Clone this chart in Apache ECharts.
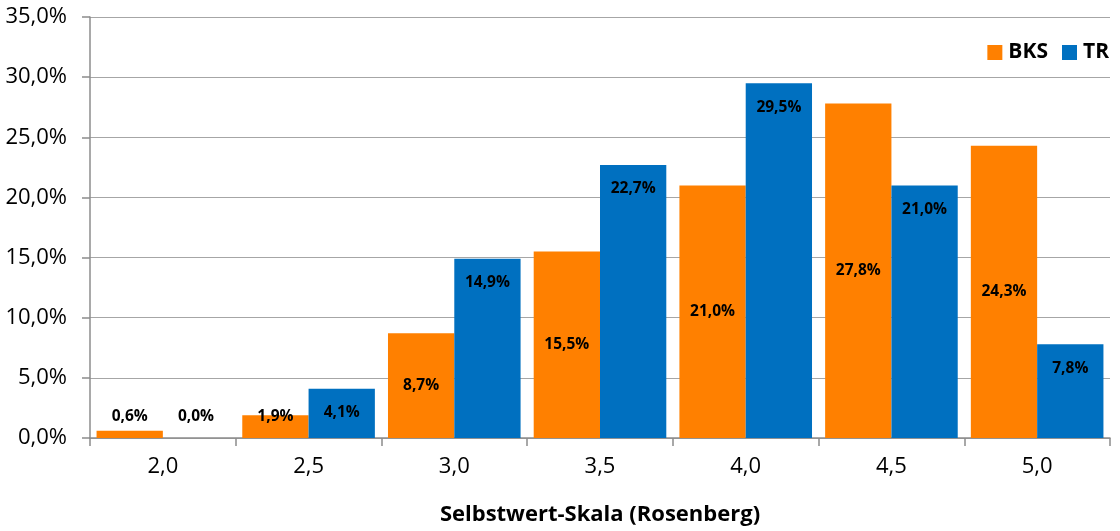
<!DOCTYPE html>
<html><head><meta charset="utf-8">
<script src="https://cdn.jsdelivr.net/npm/echarts@6/dist/echarts.min.js"></script>
<style>html,body{margin:0;padding:0;background:#fff}#c{width:1120px;height:531px}</style>
</head><body><div id="c"></div>
<script>
const categories = ['2,0','2,5','3,0','3,5','4,0','4,5','5,0'];
const bks = [0.6, 1.9, 8.7, 15.5, 21.0, 27.8, 24.3];
const tr = [0.0, 4.1, 14.9, 22.7, 29.5, 21.0, 7.8];
const yTicks = {min:0, max:35, interval:5};
const FONT = '"Open Sans", Lato, sans-serif';
const fmt = v => v.toFixed(1).replace('.', ',') + '%';
const lbl = {show:true, color:'#000', fontWeight:'bold', fontSize:15.5, fontFamily:FONT, formatter:p=>fmt(p.value)};
const chart = echarts.init(document.getElementById('c'));
chart.setOption({
  animation:false,
  grid:{left:90, right:10, top:17, bottom:93, outerBoundsMode:'none', containLabel:false},
  legend:{right:6, top:37, itemWidth:15, itemHeight:15, itemGap:14, itemStyle:{borderWidth:0}, icon:'rect',
    textStyle:{fontWeight:'bold', fontSize:21, fontFamily:FONT, color:'#000', padding:[0,0,0,1]},
    data:['BKS','TR']},
  xAxis:{type:'category', data:categories,
    name:'Selbstwert-Skala (Rosenberg)', nameLocation:'middle', nameGap:66,
    nameTextStyle:{fontWeight:'bold', fontSize:22, fontFamily:FONT, color:'#000'},
    axisLine:{lineStyle:{color:'#8c8c8c', width:1.5}},
    axisTick:{show:true, length:8, lineStyle:{color:'#8c8c8c', width:1.5}},
    axisLabel:{fontSize:22, fontFamily:FONT, color:'#000', margin:18}},
  yAxis:{type:'value', min:yTicks.min, max:yTicks.max, interval:yTicks.interval,
    axisLine:{show:true, lineStyle:{color:'#8c8c8c', width:1.5}},
    axisTick:{show:true, length:8, lineStyle:{color:'#8c8c8c', width:1.5}},
    splitLine:{lineStyle:{color:'#a6a6a6', width:1}},
    axisLabel:{fontSize:22, fontFamily:FONT, color:'#000', margin:23, formatter:v=>fmt(v)}},
  series:[
    {name:'BKS', type:'bar', barGap:'0%', barCategoryGap:'9%', itemStyle:{color:'#FF8000'},
      data:bks.map(v=>({value:v, label: v<5 ? {position:'insideBottom', distance:13} : {position:'inside'}})),
      label:lbl},
    {name:'TR', type:'bar', barGap:'0%', barCategoryGap:'9%', itemStyle:{color:'#0070C0'},
      data:tr.map(v=>({value:v, label: v<1 ? {position:'insideBottom', distance:13} : {position:'insideTop', distance:16}})),
      label:lbl}
  ]
});
</script></body></html>
